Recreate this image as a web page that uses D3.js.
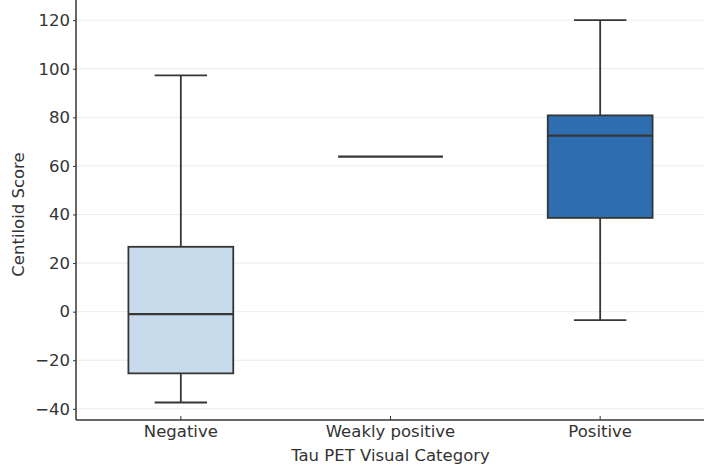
<!DOCTYPE html>
<html>
<head>
<meta charset="utf-8">
<script src="https://cdn.jsdelivr.net/npm/d3@7"></script>
<style>
  html, body { margin: 0; padding: 0; background: #fff; }
  svg { display: block; font-family: "DejaVu Sans", sans-serif; }
</style>
</head>
<body>
<svg id="chart" width="704" height="472"></svg>
<script>
// Tau PET visual category vs. Centiloid score (box summaries)
const categories = ["Negative", "Weakly positive", "Positive"];
const whiskerLow = [-37.4, 63.8, -3.5];
const q1 = [-25.4, 63.8, 38.6];
const median = [-1.0, 63.8, 72.5];
const q3 = [26.7, 63.8, 80.8];
const whiskerHigh = [97.3, 63.8, 120.0];
const boxColors = ["#c8dbed", "#6a9ecf", "#2e6eb0"];
const yTicks = [-40, -20, 0, 20, 40, 60, 80, 100, 120];

const svg = d3.select("#chart");
const margin = { left: 76, right: 0, top: 0, bottom: 52 };
const W = 704, H = 472;
const fontSize = 16.5;

const y = d3.scaleLinear()
  .domain([-44.6, 128.3])
  .range([H - margin.bottom, margin.top]);

const x = d3.scaleBand()
  .domain(categories)
  .range([76, 705])
  .paddingInner(0.5)
  .paddingOuter(0.25);

const ink = "#363636";

// faint horizontal grid
svg.append("g")
  .selectAll("line")
  .data(yTicks)
  .join("line")
  .attr("x1", margin.left)
  .attr("x2", W)
  .attr("y1", d => y(d))
  .attr("y2", d => y(d))
  .attr("stroke", "#ececf2")
  .attr("stroke-width", 1);

// boxes
const rows = categories.map((c, i) => ({
  c, lo: whiskerLow[i], q1: q1[i], med: median[i], q3: q3[i], hi: whiskerHigh[i], color: boxColors[i]
}));

const g = svg.append("g");
rows.forEach(r => {
  const x0 = x(r.c), bw = x.bandwidth(), cx = x0 + bw / 2;
  const capW = bw / 2;
  // whiskers
  if (r.hi > r.q3) {
    g.append("line").attr("x1", cx).attr("x2", cx).attr("y1", y(r.q3)).attr("y2", y(r.hi))
      .attr("stroke", ink).attr("stroke-width", 1.8);
    g.append("line").attr("x1", cx - capW / 2).attr("x2", cx + capW / 2).attr("y1", y(r.hi)).attr("y2", y(r.hi))
      .attr("stroke", ink).attr("stroke-width", 1.8);
  }
  if (r.lo < r.q1) {
    g.append("line").attr("x1", cx).attr("x2", cx).attr("y1", y(r.q1)).attr("y2", y(r.lo))
      .attr("stroke", ink).attr("stroke-width", 1.8);
    g.append("line").attr("x1", cx - capW / 2).attr("x2", cx + capW / 2).attr("y1", y(r.lo)).attr("y2", y(r.lo))
      .attr("stroke", ink).attr("stroke-width", 1.8);
  }
  // box
  if (r.q3 > r.q1) {
    g.append("rect")
      .attr("x", x0).attr("width", bw)
      .attr("y", y(r.q3)).attr("height", y(r.q1) - y(r.q3))
      .attr("fill", r.color).attr("stroke", ink).attr("stroke-width", 1.8);
  }
  // median
  g.append("line").attr("x1", x0).attr("x2", x0 + bw).attr("y1", y(r.med)).attr("y2", y(r.med))
    .attr("stroke", ink).attr("stroke-width", 2.2);
});

// y axis
const yAxis = svg.append("g")
  .attr("transform", `translate(${margin.left},0)`)
  .call(d3.axisLeft(y).tickValues(yTicks).tickSize(3).tickPadding(3).tickFormat(d => d < 0 ? "\u2212" + Math.abs(d) : d));
yAxis.select(".domain").attr("d", `M0,0V${y.range()[0]}`).attr("stroke", ink).attr("stroke-width", 1.5);
yAxis.selectAll(".tick line").attr("stroke", ink);
yAxis.selectAll("text").attr("fill", "#333").attr("font-size", fontSize).attr("font-family", "DejaVu Sans, sans-serif");

// x axis
const xAxis = svg.append("g")
  .attr("transform", `translate(0,${y.range()[0]})`)
  .call(d3.axisBottom(x).tickSize(-4).tickPadding(7));
xAxis.select(".domain").attr("d", `M${margin.left},0H${W}`).attr("stroke", ink).attr("stroke-width", 1.5);
xAxis.selectAll(".tick line").attr("stroke", ink);
xAxis.selectAll("text").attr("fill", "#333").attr("font-size", fontSize).attr("font-family", "DejaVu Sans, sans-serif")
  .attr("dy", "0.71em").attr("y", 5);

// axis titles
svg.append("text")
  .attr("x", (x("Weakly positive") + x.bandwidth() / 2))
  .attr("y", 461)
  .attr("text-anchor", "middle")
  .attr("font-size", fontSize)
  .attr("fill", "#333")
  .text("Tau PET Visual Category");

svg.append("text")
  .attr("transform", `translate(24,${y(40)}) rotate(-90)`)
  .attr("text-anchor", "middle")
  .attr("font-size", fontSize)
  .attr("fill", "#333")
  .text("Centiloid Score");
</script>
</body>
</html>
